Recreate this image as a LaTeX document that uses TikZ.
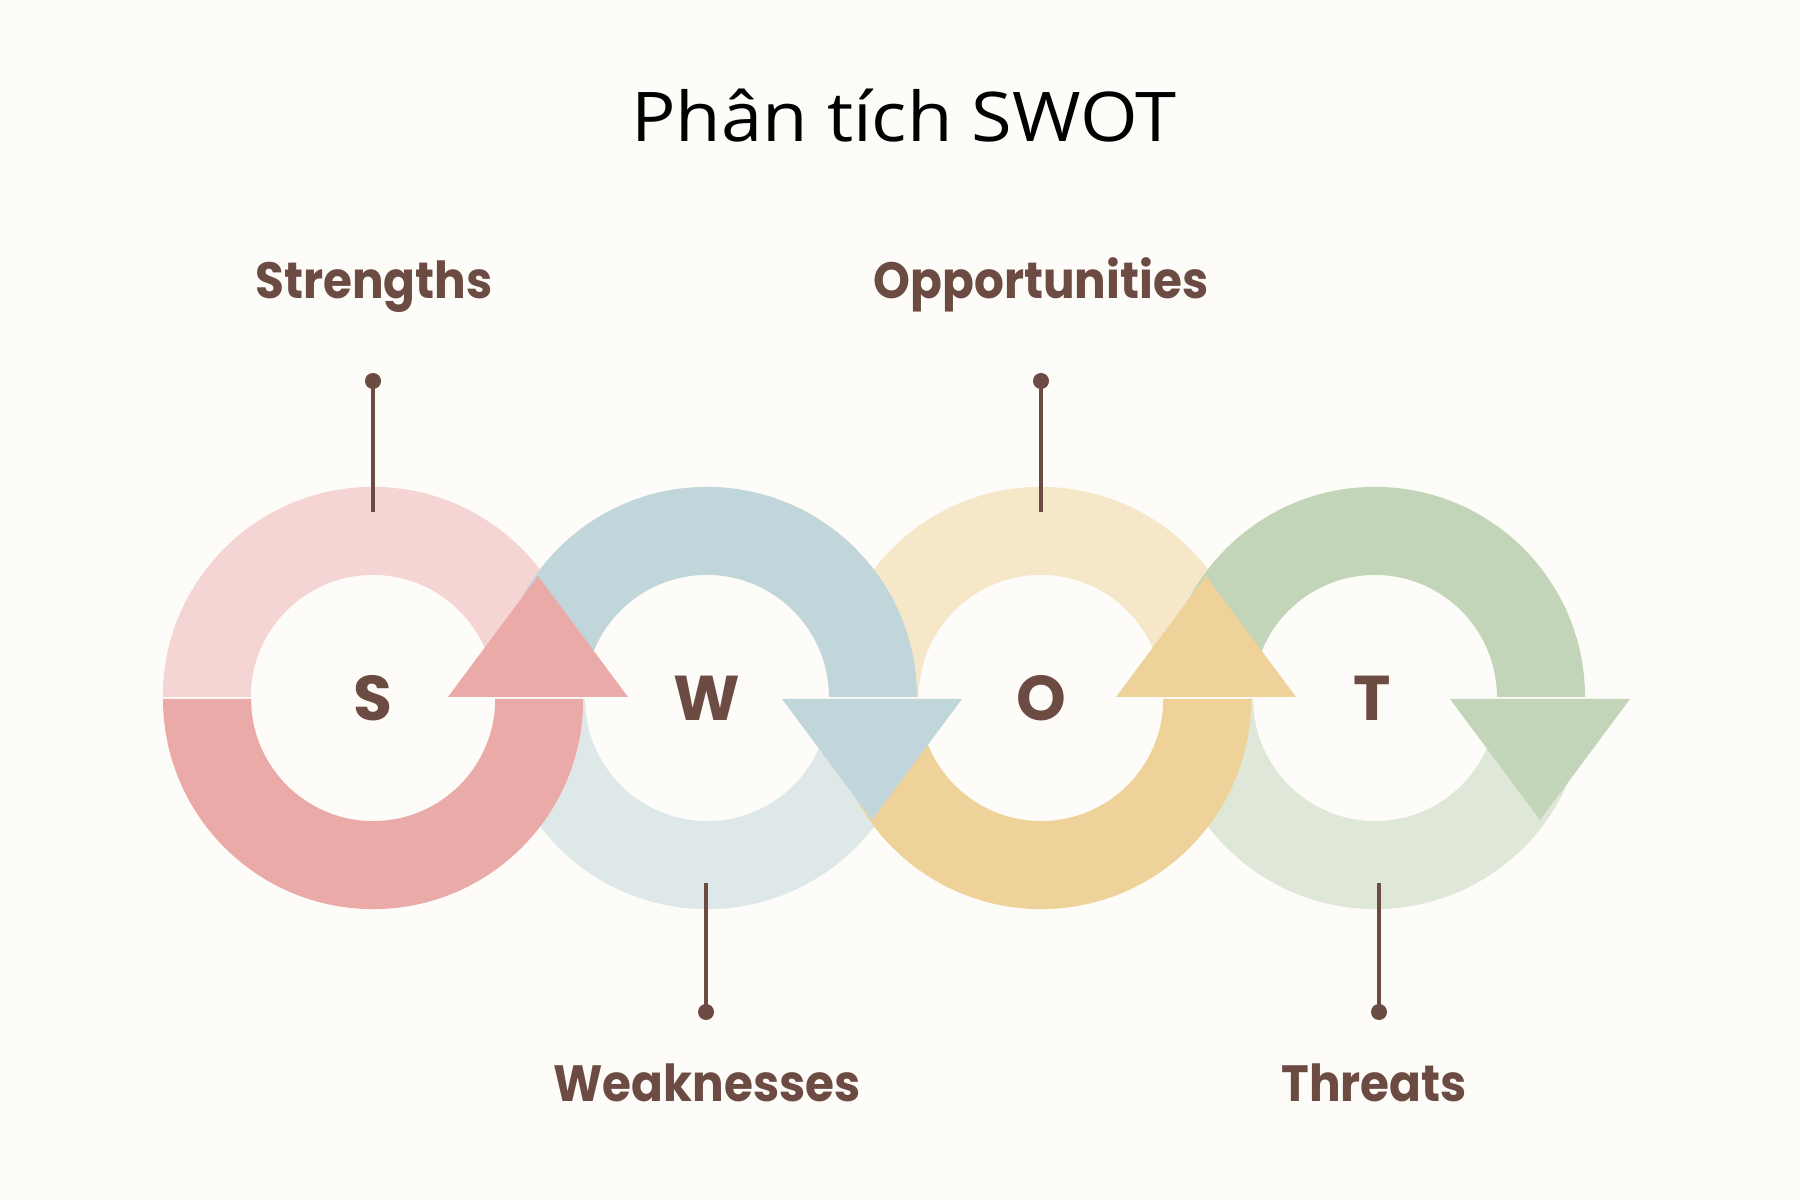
\documentclass[tikz,border=0pt]{standalone}
\usepackage{fontspec}
\setmainfont{Poppins}
\newfontfamily\titlefont{Open Sans}
\usetikzlibrary{calc}
\definecolor{bg}{HTML}{FDFCF8}
\definecolor{brown}{HTML}{6C4B43}
\definecolor{pinkL}{HTML}{F5D5D4}
\definecolor{pinkD}{HTML}{EAAAA8}
\definecolor{blueD}{HTML}{C1D6DB}
\definecolor{blueL}{HTML}{DFE8E8}
\definecolor{yelL}{HTML}{F6E7C9}
\definecolor{yelD}{HTML}{EFD29A}
\definecolor{grnD}{HTML}{C2D5B9}
\definecolor{grnL}{HTML}{DFE8D8}
\tikzset{
  label text/.style={text=brown, font=\fontsize{14.5}{17}\selectfont\bfseries, inner sep=0pt, anchor=base, xscale=0.92},
  letter text/.style={text=brown, font=\fontsize{18}{20}\selectfont\bfseries, inner sep=0pt, anchor=center},
  pin dot/.style={circle, fill=brown, inner sep=0pt, minimum size=0.16cm},
  pin line/.style={draw=brown, line width=1.15pt},
}
\newcommand{\upperhalf}[2]{\fill[#2] ($(#1)+(210,1)$) arc[start angle=0,end angle=180,radius=2.1cm] -- ++(88,0) arc[start angle=180,end angle=0,radius=1.22cm] -- cycle;}
\newcommand{\lowerhalf}[2]{\fill[#2] ($(#1)+(-210,-1)$) arc[start angle=180,end angle=360,radius=2.1cm] -- ++(-88,0) arc[start angle=360,end angle=180,radius=1.22cm] -- cycle;}
\newcommand{\uptri}[2]{\fill[#2] ($(#1)+(75,1)$) -- ($(#1)+(255,1)$) -- ($(#1)+(165,122)$) -- cycle;}
\newcommand{\downtri}[2]{\fill[#2] ($(#1)+(75,-1)$) -- ($(#1)+(255,-1)$) -- ($(#1)+(165,-122)$) -- cycle;}
\begin{document}
\begin{tikzpicture}[x=0.01cm,y=0.01cm]
\useasboundingbox (0,0) rectangle (1800,1200);
\fill[bg] (0,0) rectangle (1800,1200);
\coordinate (cS) at (373,502);
\coordinate (cW) at (707,502);
\coordinate (cO) at (1041,502);
\coordinate (cT) at (1375,502);
% light halves
\upperhalf{cS}{pinkL}
\lowerhalf{cW}{blueL}
\upperhalf{cO}{yelL}
\lowerhalf{cT}{grnL}
% dark halves
\lowerhalf{cS}{pinkD}
\upperhalf{cW}{blueD}
\lowerhalf{cO}{yelD}
\upperhalf{cT}{grnD}
% arrowheads
\uptri{cS}{pinkD}
\downtri{cW}{blueD}
\uptri{cO}{yelD}
\downtri{cT}{grnD}
% letters
\node[letter text] (lS) at (cS) {S};
\node[letter text] (lW) at (cW) {W};
\node[letter text] (lO) at (cO) {O};
\node[letter text] (lT) at (1372,502) {T};
% title
\node[text=black, font=\titlefont\fontsize{19.5}{23}\selectfont, inner sep=0pt, anchor=base, xscale=1.08] (title) at (904,1058) {Phân tích SWOT};
% labels
\node[label text] (tS) at (374,901) {Strengths};
\node[label text] (tO) at (1041,901) {Opportunities};
\node[label text] (tW) at (707,98) {Weaknesses};
\node[label text] (tT) at (1374,98) {Threats};
% pins
\node[pin dot] (dS) at (373,819) {};
\coordinate (eS) at (373,688);
\node[pin dot] (dO) at (1041,819) {};
\coordinate (eO) at (1041,688);
\node[pin dot] (dW) at (706,188) {};
\coordinate (eW) at (706,317);
\node[pin dot] (dT) at (1379,188) {};
\coordinate (eT) at (1379,317);
\draw[pin line] (dS.center) -- (eS);
\draw[pin line] (dO.center) -- (eO);
\draw[pin line] (dW.center) -- (eW);
\draw[pin line] (dT.center) -- (eT);
\end{tikzpicture}
\end{document}
